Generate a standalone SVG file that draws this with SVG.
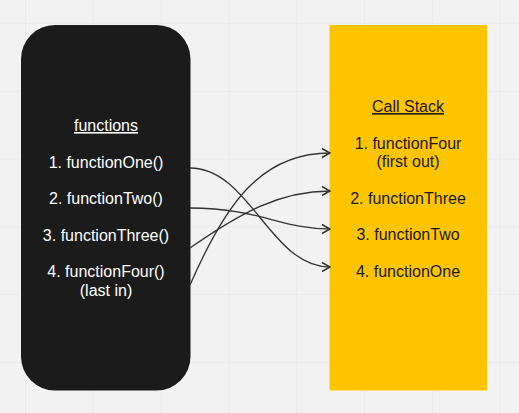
<svg xmlns="http://www.w3.org/2000/svg" width="519" height="413" viewBox="0 0 519 413">
<defs>
<pattern id="grid" x="25" y="23" width="67.8" height="67.8" patternUnits="userSpaceOnUse">
<path d="M0,0 H67.8 M0,0 V67.8" fill="none" stroke="#e4e4e4" stroke-width="1"/>
</pattern>
<marker id="arr" viewBox="0 0 12 12" refX="11" refY="6" markerWidth="12" markerHeight="12" markerUnits="userSpaceOnUse" orient="auto">
<path d="M3,1.5 L11,6 L3,10.5" fill="none" stroke="#333333" stroke-width="1.5"/>
</marker>
</defs>
<style>
.lt{font-family:"Liberation Sans",Arial,sans-serif;font-size:16px;fill:#ffffff;text-anchor:middle}
.rt{font-family:"Liberation Sans",Arial,sans-serif;font-size:16px;fill:#1a1a1a;text-anchor:middle}
.u{text-decoration:underline}
.edge{fill:none;stroke:#333333;stroke-width:1.3;marker-end:url(#arr)}
</style>
<rect width="519" height="413" fill="#f2f2f2"/>
<rect width="519" height="413" fill="url(#grid)"/>
<g id="functions">
<rect x="21" y="25" width="169.5" height="365.5" rx="34" ry="34" fill="#1b1b1b"/>
<text class="lt u" x="106" y="131">functions</text>
<text class="lt" x="106" y="168">1. functionOne()</text>
<text class="lt" x="106" y="204">2. functionTwo()</text>
<text class="lt" x="106" y="241">3. functionThree()</text>
<text class="lt" x="106" y="277">4. functionFour()</text>
<text class="lt" x="106" y="296">(last in)</text>
</g>
<g id="callstack">
<rect x="329.5" y="25" width="157.5" height="365.5" fill="#ffc400"/>
<text class="rt u" x="408" y="112">Call Stack</text>
<text class="rt" x="408" y="149">1. functionFour</text>
<text class="rt" x="408" y="167">(first out)</text>
<text class="rt" x="408" y="204">2. functionThree</text>
<text class="rt" x="408" y="240">3. functionTwo</text>
<text class="rt" x="408" y="277">4. functionOne</text>
</g>
<g id="connectors">
<path class="edge" d="M190,168 C250,168 270,267 330,267"/>
<path class="edge" d="M190,208 C260,208 280,229 330,229"/>
<path class="edge" d="M190,248 C240,213 280,191 330,191"/>
<path class="edge" d="M190,285 C225,205 260,153 330,153"/>
</g>
</svg>
